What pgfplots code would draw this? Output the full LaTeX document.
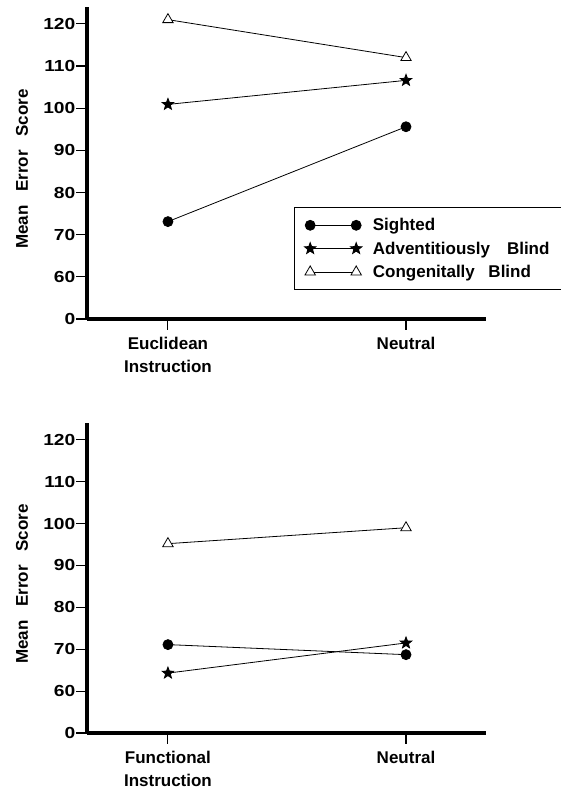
\documentclass[border=0pt]{standalone}
\usepackage{fontspec}
\setmainfont{Liberation Sans}
\newfontfamily\tickfont[FakeStretch=1.2]{Liberation Sans}
\usepackage{pgfplots}
\pgfplotsset{compat=1.18}

% filled five-pointed star
\pgfdeclareplotmark{fstar}{%
  \pgfpathmoveto{\pgfpointpolar{90}{\pgfplotmarksize}}%
  \pgfpathlineto{\pgfpointpolar{126}{0.42\pgfplotmarksize}}%
  \pgfpathlineto{\pgfpointpolar{162}{\pgfplotmarksize}}%
  \pgfpathlineto{\pgfpointpolar{198}{0.42\pgfplotmarksize}}%
  \pgfpathlineto{\pgfpointpolar{234}{\pgfplotmarksize}}%
  \pgfpathlineto{\pgfpointpolar{270}{0.42\pgfplotmarksize}}%
  \pgfpathlineto{\pgfpointpolar{306}{\pgfplotmarksize}}%
  \pgfpathlineto{\pgfpointpolar{342}{0.42\pgfplotmarksize}}%
  \pgfpathlineto{\pgfpointpolar{18}{\pgfplotmarksize}}%
  \pgfpathlineto{\pgfpointpolar{54}{0.42\pgfplotmarksize}}%
  \pgfpathclose
  \pgfusepathqfillstroke
}

\newcommand{\gap}{\hspace{0.8em}}

\pgfplotsset{
  panel/.style={
    scale only axis, width=399pt,
    xmin=-0.34, xmax=1.336, ymin=50, ymax=124,
    axis x line*=bottom, axis y line*=left,
    axis line style={-, line width=4.4pt},
    clip=false,
    tick align=outside,
    major tick length=10.5pt,
    ytick={50,60,...,120},
    yticklabels={0,60,70,80,90,100,110,120},
    xtick={0,1},
    tick style={line width=1.1pt, black},
    yticklabel style={font=\tickfont\bfseries\fontsize{16}{19}\selectfont,
      inner xsep=1pt},
    xticklabel style={font=\bfseries\fontsize{17}{23}\selectfont, align=center, yshift=-4pt},
    ylabel={Mean\gap Error\gap Score},
    ylabel style={font=\bfseries\fontsize{17}{20}\selectfont,
      at={(axis description cs:-0.163,0.48)}, anchor=center},
    every axis plot/.append style={black, line width=0.8pt},
    legend image code/.code={\draw[##1] plot coordinates {(0pt,0pt) (46pt,0pt)};},
  },
  sighted/.style={mark=*, mark size=5pt},
  adventitious/.style={mark=fstar, mark size=6pt},
  congenital/.style={mark=triangle*, mark size=6pt, mark options={fill=white, line width=0.8pt}},
}

\begin{document}
\begin{tikzpicture}
\useasboundingbox (0pt,0pt) rectangle (560pt,-791pt);

% top panel: Euclidean instruction vs neutral
\begin{axis}[panel, height=312pt,
  at={(87pt,-319pt)}, anchor=south west,
  xticklabels={{Euclidean\\Instruction},Neutral},
  legend style={draw=black, line width=0.8pt, fill=white,
    at={(0.519,0.359)}, anchor=north west,
    font=\bfseries\fontsize{17}{20}\selectfont,
    inner xsep=10pt, inner ysep=9pt, row sep=5.5pt, column sep=9pt},
  legend cell align={left},
]
\addplot[sighted] coordinates {(0,73.1) (1,95.6)};
\addlegendentry{Sighted}
\addplot[adventitious] coordinates {(0,100.9) (1,106.6)};
\addlegendentry{Adventitiously\hspace{1em}Blind}
\addplot[congenital] coordinates {(0,121.0) (1,112.0)};
\addlegendentry{Congenitally\gap Blind}
\end{axis}

% bottom panel: functional instruction vs neutral
\begin{axis}[panel, height=310pt,
  at={(87pt,-733pt)}, anchor=south west,
  xticklabels={{Functional\\Instruction},Neutral},
]
\addplot[sighted] coordinates {(0,71.1) (1,68.7)};
\addplot[adventitious] coordinates {(0,64.3) (1,71.5)};
\addplot[congenital] coordinates {(0,95.2) (1,99.0)};
\end{axis}
\end{tikzpicture}
\end{document}
